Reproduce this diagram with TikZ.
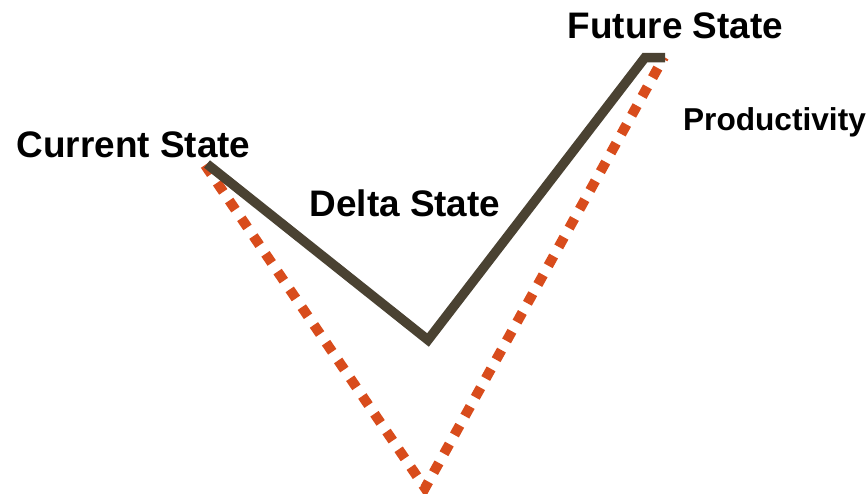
\documentclass[tikz,border=0pt]{standalone}
\usepackage{fontspec}
\setmainfont{Liberation Sans}
\usepackage{tikz}

\definecolor{darkline}{RGB}{74,66,50}
\definecolor{rustline}{RGB}{216,76,28}

\begin{document}
\begin{tikzpicture}
    \useasboundingbox (0,0) rectangle (17.34,9.86);

    % Productivity curve (dashed)
    \draw[rustline, line width=0.2cm, dash pattern=on 0.22cm off 0.21cm]
        (4.10,6.56) -- (8.50,0.10) -- (13.28,8.72);

    % State path
    \draw[darkline, line width=0.19cm]
        (4.14,6.58) -- (8.56,3.06) -- (12.90,8.71) -- (13.30,8.71);

    % Labels
    \node[anchor=base, font=\fontsize{21}{25}\selectfont\bfseries] (current) at (2.67,6.72) {Current State};
    \node[anchor=base, font=\fontsize{21}{25}\selectfont\bfseries] (delta) at (8.10,5.54) {Delta State};
    \node[anchor=base, font=\fontsize{21}{25}\selectfont\bfseries] (future) at (13.51,9.10) {Future State};
    \node[anchor=base, font=\fontsize{18}{22}\selectfont\bfseries] (prod) at (15.49,7.26) {Productivity};
\end{tikzpicture}
\end{document}
